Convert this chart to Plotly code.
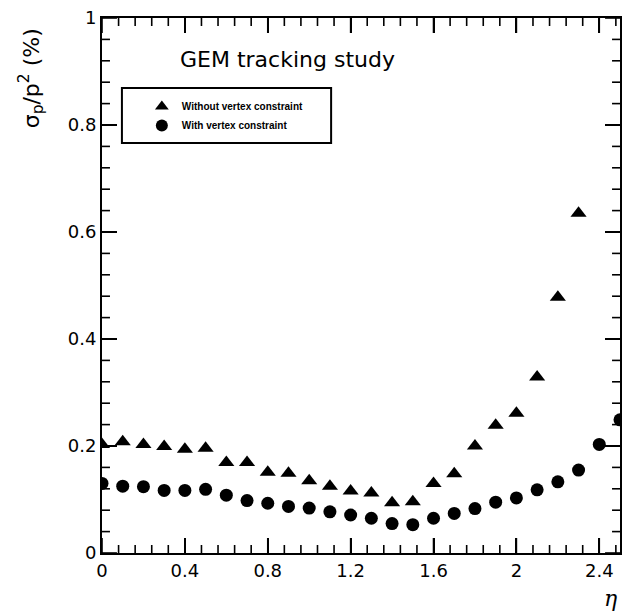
import plotly.graph_objects as go

# pseudorapidity bins
eta = [0.0, 0.1, 0.2, 0.3, 0.4, 0.5, 0.6, 0.7, 0.8, 0.9, 1.0, 1.1, 1.2,
       1.3, 1.4, 1.5, 1.6, 1.7, 1.8, 1.9, 2.0, 2.1, 2.2, 2.3, 2.4, 2.5]

# momentum resolution sigma_p/p^2 (%) without vertex constraint
res_no_vertex = [0.203, 0.208, 0.203, 0.199, 0.194, 0.196, 0.169, 0.169,
                 0.151, 0.149, 0.135, 0.125, 0.116, 0.112, 0.094, 0.096,
                 0.130, 0.148, 0.200, 0.239, 0.261, 0.329, 0.478, 0.635]

# momentum resolution sigma_p/p^2 (%) with vertex constraint
res_vertex = [0.130, 0.125, 0.124, 0.117, 0.117, 0.119, 0.108, 0.098,
              0.093, 0.087, 0.084, 0.077, 0.071, 0.065, 0.055, 0.053,
              0.065, 0.074, 0.083, 0.095, 0.103, 0.118, 0.133, 0.155,
              0.203, 0.249]

# axis ranges and tick spacing (major, minor)
x_range, y_range = [0, 2.5], [0, 1]
x_dtick, x_minor_dtick = 0.4, 0.08
y_dtick, y_minor_dtick = 0.2, 0.04

W, H = 628, 611
ML, MR, MT, MB = 102, 6, 18, 58
PW, PH = W - ML - MR, H - MT - MB


def px(x):
    return (x - ML) / PW


def py(y):
    return (H - MB - y) / PH


def tick_positions(lo, hi, step):
    vals = []
    k = 0
    while lo + k * step <= hi + 1e-9:
        vals.append(round(lo + k * step, 6))
        k += 1
    return vals


def is_major(v, major):
    return abs(v / major - round(v / major)) < 1e-6


# frame ticks on all four sides, drawn as one line trace
MAJOR_LEN, MINOR_LEN = 15, 8
xs, ys = [], []
for v in tick_positions(x_range[0], x_range[1], x_minor_dtick):
    L = (MAJOR_LEN if is_major(v, x_dtick) else MINOR_LEN) * \
        (y_range[1] - y_range[0]) / PH
    xs += [v, v, None, v, v, None]
    ys += [y_range[0], y_range[0] + L, None, y_range[1], y_range[1] - L, None]
for v in tick_positions(y_range[0], y_range[1], y_minor_dtick):
    L = (MAJOR_LEN if is_major(v, y_dtick) else MINOR_LEN) * \
        (x_range[1] - x_range[0]) / PW
    ys += [v, v, None, v, v, None]
    xs += [x_range[0], x_range[0] + L, None, x_range[1], x_range[1] - L, None]

fig = go.Figure()
fig.add_trace(go.Scatter(
    x=xs, y=ys, mode="lines", line=dict(color="black", width=1.6),
    showlegend=False, hoverinfo="skip", cliponaxis=False,
))
fig.add_trace(go.Scatter(
    x=eta[:len(res_no_vertex)], y=res_no_vertex, mode="markers",
    name="Without vertex constraint",
    marker=dict(symbol="triangle-up", size=14, color="black"),
    cliponaxis=True,
))
fig.add_trace(go.Scatter(
    x=eta[:len(res_vertex)], y=res_vertex, mode="markers",
    name="With vertex constraint",
    marker=dict(symbol="circle", size=13, color="black"),
    cliponaxis=True,
))

tickfont = dict(family="DejaVu Sans", size=18, color="black")

fig.update_xaxes(
    range=x_range, tickmode="linear", tick0=0, dtick=x_dtick,
    ticks="inside", ticklen=15, tickwidth=2, tickcolor="black",
    showline=True, linecolor="black", linewidth=2, mirror="allticks",
    showgrid=False, zeroline=False, tickfont=tickfont,
)
fig.update_yaxes(
    range=y_range, tickmode="linear", tick0=0, dtick=y_dtick,
    ticks="inside", ticklen=15, tickwidth=2, tickcolor="black",
    showline=True, linecolor="black", linewidth=2, mirror="allticks",
    showgrid=False, zeroline=False, tickfont=tickfont,
)

# legend frame
fig.add_shape(type="rect", xref="paper", yref="paper",
              x0=px(122), x1=px(332), y0=py(143), y1=py(88),
              line=dict(color="black", width=2), fillcolor="rgba(0,0,0,0)")

fig.add_annotation(text="GEM tracking study", xref="paper", yref="paper",
                   x=px(288), y=py(59), showarrow=False,
                   xanchor="center", yanchor="middle",
                   font=dict(family="DejaVu Sans", size=22, color="black"))
fig.add_annotation(text="σ<sub>p</sub>/p<sup>2</sup> (%)", xref="paper",
                   yref="paper", x=px(31), y=py(78), showarrow=False,
                   textangle=-90, xanchor="center", yanchor="middle",
                   font=dict(family="DejaVu Sans", size=22, color="black"))
fig.add_annotation(text="<i>η</i>", xref="paper", yref="paper",
                   x=px(612), y=py(598), showarrow=False,
                   xanchor="center", yanchor="middle",
                   font=dict(family="DejaVu Serif", size=22, color="black"))

fig.update_layout(
    width=W, height=H,
    margin=dict(l=ML, r=MR, t=MT, b=MB),
    paper_bgcolor="white", plot_bgcolor="white",
    showlegend=True,
    legend=dict(x=px(142), y=py(92), xanchor="left", yanchor="top",
                bgcolor="rgba(0,0,0,0)", borderwidth=0,
                font=dict(family="Liberation Sans", size=10, color="black",
                          weight="bold"),
                itemsizing="constant", tracegroupgap=0),
)

fig.write_html("out.html")
